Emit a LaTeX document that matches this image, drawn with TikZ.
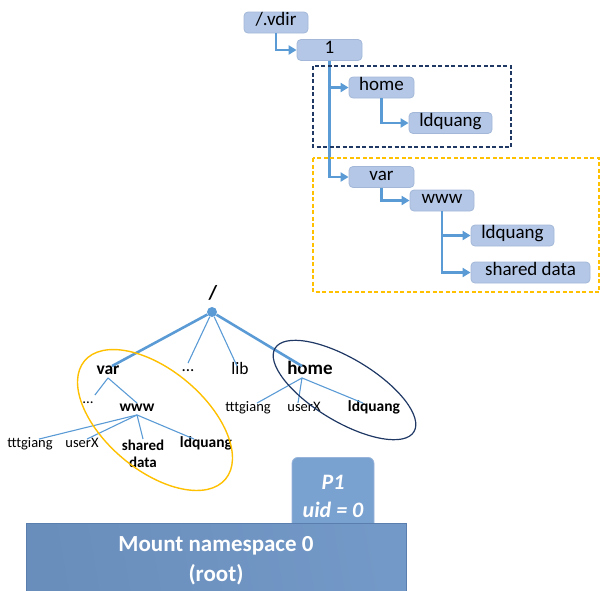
\documentclass[tikz,border=0pt]{standalone}
\usepackage{fontspec}
\setmainfont{Carlito}
\usetikzlibrary{arrows.meta,calc}

\definecolor{boxfill}{HTML}{B4C7E7}
\definecolor{boxline}{HTML}{A3B8D8}
\definecolor{linkblue}{HTML}{5B9BD5}
\definecolor{navyline}{HTML}{1F3864}
\definecolor{goldline}{HTML}{FFC000}
\definecolor{procfill}{HTML}{7AA2D0}
\definecolor{procline}{HTML}{98B4DA}
\definecolor{nsfill}{HTML}{6A8EBB}
\definecolor{nslight}{HTML}{7399C8}
\definecolor{nsline}{HTML}{5A7FAE}
\newcommand{\fsz}[1]{\fontsize{#1}{#1}\selectfont}

\begin{document}
\begin{tikzpicture}[x=1pt, y=-1pt,
  dirbox/.style={rounded corners=4pt, fill=boxfill, draw=boxline, line width=0.8pt,
    minimum height=21pt, inner sep=0pt, text height=0.8em, text depth=0.2em, font=\fsz{19}},
  arr/.style={linkblue, line width=2.2pt, -{Triangle[length=8pt,width=9pt]}},
  lbl/.style={inner sep=1pt, text height=0.75em, text depth=0.2em},
  thk/.style={linkblue, line width=2.6pt},
  thn/.style={linkblue, line width=1.1pt}]
  \useasboundingbox (0,0) rectangle (600,590);

  % vdir tree
  \node[dirbox, minimum width=64pt] (vdir) at (276,22.5) {/.vdir};
  \node[dirbox, minimum width=65pt] (one) at (329.5,50) {1};
  \node[dirbox, minimum width=65pt] (vhome) at (381.5,87.5) {home};
  \node[dirbox, minimum width=83pt] (vldq) at (450.5,123) {ldquang};
  \node[dirbox, minimum width=65pt] (vvar) at (381.5,177) {var};
  \node[dirbox, minimum width=64pt] (vwww) at (442,200.5) {www};
  \node[dirbox, minimum width=83pt] (vldqw) at (512.5,235.5) {ldquang};
  \node[dirbox, minimum width=119pt] (vshared) at (530.5,272.5) {shared data};
  \draw[arr] (vdir.south) |- (one.west);
  \draw[arr] (one.south) |- (vhome.west);
  \draw[arr] (one.south) |- (vvar.west);
  \draw[arr] (vhome.south) |- (vldq.west);
  \draw[arr] (vvar.south) |- (vwww.west);
  \draw[arr] (vwww.south) |- (vldqw.west);
  \draw[arr] (vwww.south) |- (vshared.west);
  % bind mount groups
  \draw[navyline, line width=1.5pt, dash pattern=on 4pt off 2.5pt] (313,66) rectangle (511,147);
  \draw[goldline, line width=1.5pt, dash pattern=on 4pt off 2.5pt] (313,158) rectangle (599,292);

  % root tree
  \node[font=\bfseries\fsz{20}, inner sep=0pt] (slash) at (213,293) {/};
  \node[circle, fill=linkblue, inner sep=0pt, minimum size=10pt] (root) at (212,312) {};
  \node[lbl, font=\bfseries\fsz{17.5}] (var) at (108,372) {var};
  \node[lbl, font=\fsz{17}] (rdots) at (188,369) {...};
  \node[lbl, font=\fsz{17.5}] (lib) at (240,372) {lib};
  \node[lbl, font=\bfseries\fsz{19}] (home) at (310,372) {home};
  \draw[thk] (root) -- ($(var.north)+(4,0)$);
  \draw[thn] (root) -- (rdots.north);
  \draw[thn] (root) -- ($(lib.north)+(-3,0)$);
  \draw[thk] (root) -- ($(home.north)+(-8,0)$);

  \node[lbl, font=\fsz{14.5}] (htt) at (248,409) {tttgiang};
  \node[lbl, font=\fsz{14.5}] (hux) at (304,409) {userX};
  \node[lbl, font=\bfseries\fsz{15.5}] (hldq) at (374,409) {ldquang};
  \draw[thn] ($(home.south)+(-8,0)$) -- ($(htt.north)+(9,0)$);
  \draw[thn] ($(home.south)+(-8,0)$) -- ($(hux.north)+(-6,0)$);
  \draw[thn] ($(home.south)+(-8,0)$) -- ($(hldq.north)+(-11,0)$);

  \node[lbl, font=\fsz{15}] (vdots) at (88,401) {...};
  \node[lbl, font=\bfseries\fsz{15.5}] (www) at (137,409) {www};
  \draw[thn] (var.south) -- (vdots.north east);
  \draw[thn] (var.south) -- (www.north);

  \node[lbl, font=\fsz{14.5}] (wtt) at (30,445) {tttgiang};
  \node[lbl, font=\fsz{14.5}] (wux) at (82,445) {userX};
  \node[align=center, inner sep=1pt, font=\bfseries\fontsize{15}{17}\selectfont] (wsh) at (143,454) {shared\\data};
  \node[lbl, font=\bfseries\fsz{15.5}] (wldq) at (206,445) {ldquang};
  \draw[thn] (www.south) -- ($(wtt.north)+(9,0)$);
  \draw[thn] (www.south) -- ($(wux.north)+(5,0)$);
  \draw[thn] (www.south) -- (wsh.north);
  \draw[thn] (www.south) -- ($(wldq.north)+(-12,0)$);

  % mounted subtrees
  \draw[goldline, line width=1.4pt] (155,420) ellipse [x radius=92pt, y radius=50pt, rotate=-40];
  \draw[navyline, line width=1.2pt] (344.5,390) ellipse [x radius=81pt, y radius=31.5pt, rotate=-31];

  % process and namespace
  \node[rounded corners=6pt, fill=procfill, draw=procline, line width=0.8pt,
    minimum width=82pt, minimum height=73pt, anchor=north] (p1) at (333,457) {};
  \node[text=white, font=\bfseries\itshape\fsz{22}] (p1name) at (333,482) {P1};
  \node[text=white, font=\bfseries\itshape\fsz{22}] (p1uid) at (333,510) {uid = 0};
  \node[left color=nsfill, right color=nslight, shading angle=100, draw=nsline, line width=0.8pt,
    minimum width=380pt, minimum height=72pt, anchor=north west] (ns) at (26,523) {};
  \node[text=white, font=\bfseries\fsz{23}] (nsname) at (216,546) {Mount namespace 0};
  \node[text=white, font=\bfseries\fsz{23}] (nsroot) at (216,575) {(root)};
\end{tikzpicture}
\end{document}
